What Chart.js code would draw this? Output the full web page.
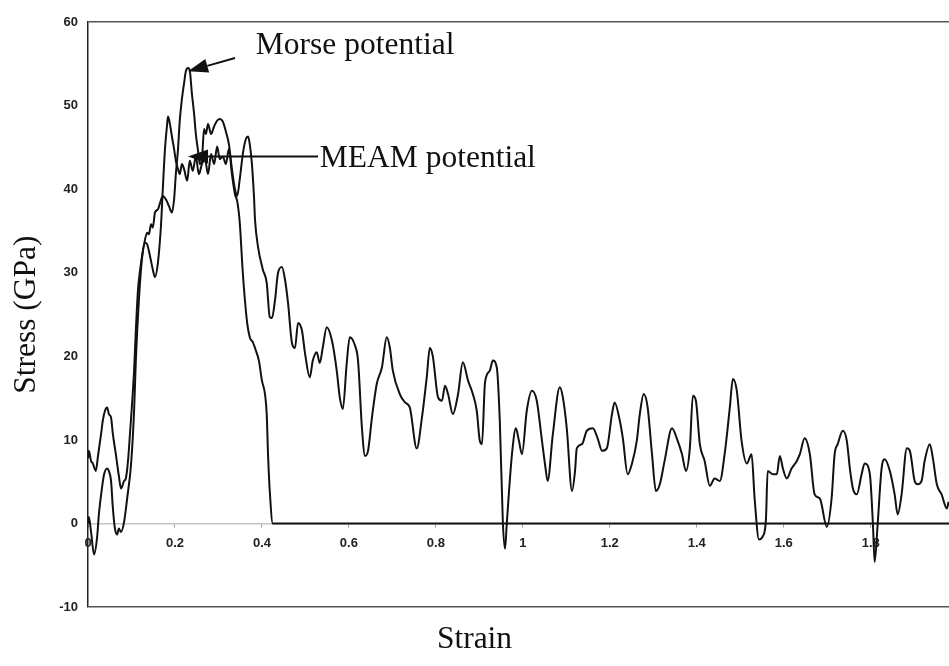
<!DOCTYPE html>
<html>
<head>
<meta charset="utf-8">
<title>Stress vs Strain</title>
<script src="https://cdn.jsdelivr.net/npm/chart.js"></script>
<style>
  html, body { margin: 0; padding: 0; background: #fff; }
  #wrap { width: 949px; height: 666px; position: relative; }
</style>
</head>
<body>
<div id="wrap"><canvas id="myChart"></canvas></div>
<script>
// Morse potential curve (strain, stress in GPa)
var morseStrain = [0.000, 0.002, 0.007, 0.011, 0.018, 0.023, 0.030, 0.034, 0.039, 0.044, 0.048, 0.053, 0.057, 0.064, 0.071, 0.076, 0.083, 0.087, 0.092, 0.097,
  0.101, 0.106, 0.110, 0.115, 0.120, 0.124, 0.129, 0.136, 0.140, 0.145, 0.149, 0.154, 0.161, 0.166, 0.172, 0.179, 0.186, 0.193, 0.198, 0.202,
  0.207, 0.211, 0.216, 0.221, 0.225, 0.230, 0.234, 0.239, 0.244, 0.248, 0.253, 0.257, 0.262, 0.267, 0.271, 0.276, 0.283, 0.290, 0.297, 0.303,
  0.310, 0.317, 0.324, 0.331, 0.338, 0.343, 0.349, 0.356, 0.363, 0.368, 0.372, 0.377, 0.382, 0.384, 0.391, 0.402, 0.411, 0.418, 0.423, 0.430,
  0.437, 0.446, 0.453, 0.460, 0.469, 0.476, 0.483, 0.492, 0.499, 0.510, 0.517, 0.526, 0.533, 0.540, 0.549, 0.561, 0.572, 0.579, 0.586, 0.595,
  0.602, 0.614, 0.621, 0.630, 0.637, 0.644, 0.653, 0.664, 0.676, 0.687, 0.694, 0.701, 0.717, 0.729, 0.740, 0.756, 0.768, 0.779, 0.786, 0.793,
  0.805, 0.814, 0.821, 0.828, 0.839, 0.851, 0.862, 0.874, 0.885, 0.894, 0.901, 0.906, 0.913, 0.924, 0.931, 0.940, 0.947, 0.954, 0.959, 0.963,
  0.975, 0.984, 0.991, 0.998, 1.009, 1.021, 1.032, 1.044, 1.051, 1.057, 1.069, 1.085, 1.092, 1.101, 1.113, 1.120, 1.124, 1.136, 1.147, 1.161,
  1.172, 1.182, 1.193, 1.205, 1.211, 1.223, 1.230, 1.241, 1.251, 1.262, 1.269, 1.278, 1.287, 1.297, 1.306, 1.315, 1.326, 1.343, 1.354, 1.366,
  1.375, 1.384, 1.391, 1.398, 1.407, 1.418, 1.430, 1.441, 1.453, 1.464, 1.476, 1.483, 1.492, 1.503, 1.515, 1.526, 1.533, 1.543, 1.552, 1.559,
  1.563, 1.575, 1.584, 1.591, 1.598, 1.607, 1.618, 1.630, 1.637, 1.648, 1.660, 1.671, 1.683, 1.699, 1.710, 1.717, 1.724, 1.736, 1.745, 1.752,
  1.759, 1.768, 1.779, 1.786, 1.798, 1.805, 1.809, 1.816, 1.825, 1.832, 1.844, 1.855, 1.862, 1.871, 1.883, 1.890, 1.901, 1.908, 1.917, 1.924,
  1.936, 1.943, 1.952, 1.963, 1.975, 1.979];
var morseStress = [7.8, 8.7, 7.5, 7.2, 6.3, 8.1, 10.7, 12.3, 13.5, 13.9, 13.1, 12.7, 10.8, 8.3, 5.7, 4.2, 5.1, 5.4, 7.5, 11.1,
  14.1, 18.3, 23.1, 28.0, 30.4, 31.9, 33.4, 34.8, 34.6, 35.8, 35.4, 37.2, 37.6, 38.4, 39.2, 38.8, 38.0, 37.2, 38.8, 41.8,
  44.8, 48.2, 50.8, 52.7, 54.1, 54.5, 54.2, 51.4, 49.0, 46.6, 44.6, 43.0, 43.6, 47.2, 46.6, 47.8, 46.6, 47.5, 48.2, 48.4,
  48.1, 46.9, 45.4, 42.4, 40.0, 39.2, 41.2, 44.2, 46.0, 46.3, 45.4, 43.0, 38.8, 36.4, 33.1, 30.4, 28.8, 24.7, 24.6, 26.7,
  30.0, 30.7, 29.2, 26.4, 21.6, 21.0, 24.0, 23.1, 20.4, 17.5, 19.5, 20.5, 19.2, 21.1, 23.5, 21.9, 18.3, 15.1, 13.7, 19.2,
  22.3, 21.3, 19.5, 11.4, 8.1, 8.7, 12.7, 16.7, 18.7, 22.3, 21.1, 18.3, 15.5, 14.5, 13.9, 9.0, 12.7, 17.5, 21.0, 20.0,
  15.1, 14.7, 16.5, 15.5, 13.1, 15.5, 19.3, 17.1, 15.5, 13.5, 9.9, 9.5, 16.9, 18.3, 19.5, 18.7, 12.3, 0.2, -3.0, 0.0,
  8.3, 11.4, 9.9, 8.3, 13.5, 15.9, 14.7, 9.9, 7.1, 5.1, 10.7, 16.3, 15.1, 11.4, 3.9, 6.3, 9.0, 9.5, 11.1, 11.4,
  10.2, 8.7, 9.0, 13.1, 14.5, 12.3, 10.2, 5.9, 7.2, 9.9, 13.1, 15.5, 13.9, 8.3, 3.9, 4.7, 7.5, 11.4, 10.2, 8.3,
  6.3, 9.0, 15.3, 14.7, 9.5, 7.5, 4.5, 5.4, 5.1, 8.3, 13.9, 17.3, 15.9, 9.9, 7.2, 8.3, 3.0, -1.9, -1.5, 0.5,
  6.3, 5.9, 5.9, 8.1, 6.6, 5.4, 6.6, 7.5, 8.3, 10.2, 8.3, 3.5, 3.0, -0.4, 3.0, 8.3, 9.5, 11.1, 9.9, 6.6,
  4.2, 3.5, 5.9, 7.2, 5.9, 0.0, -4.6, 0.0, 6.6, 7.7, 6.3, 3.5, 1.1, 3.5, 9.0, 8.7, 5.1, 4.7, 5.1, 7.5,
  9.5, 7.8, 4.7, 3.5, 1.8, 2.6];

// MEAM potential curve
var meamStrain = [0.000, 0.002, 0.007, 0.014, 0.021, 0.025, 0.032, 0.037, 0.044, 0.048, 0.053, 0.057, 0.062, 0.067, 0.071, 0.076, 0.083, 0.090, 0.099, 0.106,
  0.110, 0.117, 0.124, 0.131, 0.136, 0.143, 0.149, 0.154, 0.161, 0.168, 0.172, 0.177, 0.182, 0.184, 0.189, 0.193, 0.198, 0.202, 0.207, 0.211,
  0.216, 0.221, 0.228, 0.234, 0.241, 0.248, 0.255, 0.262, 0.269, 0.276, 0.283, 0.290, 0.297, 0.303, 0.310, 0.317, 0.324, 0.331, 0.338, 0.343,
  0.349, 0.356, 0.366, 0.372, 0.379, 0.386, 0.393, 0.400, 0.407, 0.411, 0.414, 0.418, 0.425, 1.980];
var meamStress = [0.0, 0.8, -1.0, -3.7, -1.6, 1.1, 4.2, 5.9, 6.6, 6.3, 5.1, 2.0, -0.6, -1.3, -0.6, -1.0, 0.2, 3.0, 7.1, 13.5,
  19.5, 26.7, 31.6, 33.6, 33.4, 31.9, 30.4, 29.5, 31.3, 35.8, 40.0, 44.8, 47.8, 48.7, 47.6, 46.3, 44.8, 43.4, 42.4, 41.8,
  43.0, 42.4, 41.0, 43.4, 42.2, 43.9, 41.8, 43.0, 43.6, 41.8, 44.2, 43.0, 45.1, 43.6, 43.9, 43.0, 44.8, 41.8, 39.4, 38.6,
  36.0, 30.0, 24.0, 22.3, 21.7, 20.7, 19.5, 17.1, 15.5, 13.1, 8.3, 3.9, 0.0, 0.0];

// axis range
var xMin = 0, xMax = 1.98, xStep = 0.2;
var yMin = -10, yMax = 60, yStep = 10;

// arrow annotations (data coordinates)
var morseLabel = { text: 'Morse potential', x: 0.386, y: 56.2 };
var morseArrow = { fromX: 0.338, fromY: 55.7, toX: 0.230, toY: 54.1 };
var meamLabel = { text: 'MEAM potential', x: 0.533, y: 42.6 };
var meamArrow = { fromX: 0.529, fromY: 43.9, toX: 0.230, toY: 43.9 };

var serif = "'Liberation Serif', 'Times New Roman', serif";
Chart.defaults.font.family = "'Liberation Sans', Arial, sans-serif";

function toPoints(xs, ys) {
  return xs.map(function(v, i) { return { x: v, y: ys[i] }; });
}

var annotate = {
  id: 'annotate',
  afterDatasetsDraw: function(chart) {
    var ctx = chart.ctx;
    var sx = chart.scales.x, sy = chart.scales.y;

    function arrow(a) {
      var x0 = sx.getPixelForValue(a.fromX), y0 = sy.getPixelForValue(a.fromY);
      var x1 = sx.getPixelForValue(a.toX), y1 = sy.getPixelForValue(a.toY);
      var dx = x1 - x0, dy = y1 - y0;
      var len = Math.sqrt(dx * dx + dy * dy);
      var ux = dx / len, uy = dy / len;
      var head = 20, half = 7;
      var bx = x1 - ux * head, by = y1 - uy * head;
      ctx.beginPath();
      ctx.moveTo(x0, y0);
      ctx.lineTo(bx, by);
      ctx.stroke();
      ctx.beginPath();
      ctx.moveTo(x1, y1);
      ctx.lineTo(bx - uy * half, by + ux * half);
      ctx.lineTo(bx + uy * half, by - ux * half);
      ctx.closePath();
      ctx.fill();
    }

    ctx.save();
    ctx.strokeStyle = '#111';
    ctx.fillStyle = '#111';
    ctx.lineWidth = 2;
    arrow(morseArrow);
    arrow(meamArrow);

    ctx.font = '31.5px ' + serif;
    ctx.textAlign = 'left';
    ctx.textBaseline = 'alphabetic';
    ctx.fillText(morseLabel.text, sx.getPixelForValue(morseLabel.x), sy.getPixelForValue(morseLabel.y));
    ctx.fillText(meamLabel.text, sx.getPixelForValue(meamLabel.x), sy.getPixelForValue(meamLabel.y));
    ctx.restore();
  }
};

var ctx = document.getElementById('myChart').getContext('2d');
var chart = new Chart(ctx, {
  type: 'line',
  data: {
    datasets: [{
      label: 'Morse potential',
      data: toPoints(morseStrain, morseStress),
      borderColor: '#111',
      borderWidth: 2,
      pointRadius: 0,
      cubicInterpolationMode: 'monotone'
    }, {
      label: 'MEAM potential',
      data: toPoints(meamStrain, meamStress),
      borderColor: '#111',
      borderWidth: 2,
      pointRadius: 0,
      cubicInterpolationMode: 'monotone'
    }]
  },
  plugins: [annotate],
  options: {
    responsive: true,
    maintainAspectRatio: false,
    animation: false,
    layout: { padding: { top: 22, right: 0, bottom: 0, left: 0 } },
    plugins: {
      legend: { display: false },
      tooltip: { enabled: false },
      title: {
        display: true,
        text: 'Strain',
        position: 'bottom',
        color: '#111',
        font: { family: serif, size: 31.5, weight: 'normal' },
        padding: { top: 14, bottom: 7 }
      }
    },
    scales: {
      x: {
        type: 'linear',
        min: xMin,
        max: xMax,
        position: { y: 0 },
        ticks: {
          stepSize: xStep,
          includeBounds: false,
          color: '#222',
          padding: 9,
          font: { size: 13, weight: 'bold' },
          callback: function(v) { return String(Number(v.toFixed(1))); }
        },
        grid: { drawOnChartArea: false, drawTicks: true, tickLength: 3, color: '#999' },
        border: { color: '#c4c4c4', width: 1.5 }
      },
      y: {
        min: yMin,
        max: yMax,
        afterFit: function(s) { s.width = 88; },
        ticks: {
          stepSize: yStep,
          color: '#222',
          padding: 10,
          font: { size: 13, weight: 'bold' }
        },
        grid: {
          drawTicks: false,
          lineWidth: 1.5,
          color: function(c) {
            var v = c.tick && c.tick.value;
            return (v === yMax || v === yMin) ? '#555' : 'rgba(0,0,0,0)';
          }
        },
        border: { color: '#222', width: 1.5 },
        title: {
          display: true,
          text: 'Stress (GPa)',
          color: '#111',
          font: { family: serif, size: 31.5, weight: 'normal' },
          padding: { top: 8, bottom: 0 }
        }
      }
    }
  }
});
</script>
</body>
</html>
